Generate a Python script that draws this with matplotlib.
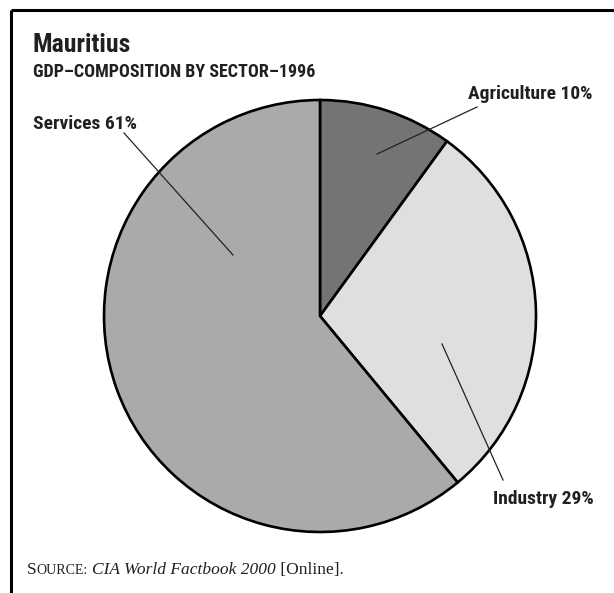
import matplotlib
matplotlib.use("Agg")
import matplotlib.pyplot as plt
from matplotlib import font_manager

# ---- data ----
sectors = ["Agriculture", "Industry", "Services"]
shares = [10, 29, 61]
colors = ["#747474", "#dfdfdf", "#aaaaaa"]
title = "Mauritius"
subtitle = "GDP\u2013COMPOSITION BY SECTOR\u20131996"

W, H = 614, 593
names = {f.name for f in font_manager.fontManager.ttflist}
cond = next((n for n in ["Liberation Sans Narrow", "Roboto Condensed",
                         "Open Sans Condensed", "DejaVu Sans Condensed"] if n in names),
            "DejaVu Sans")
serif = next((n for n in ["Liberation Serif", "DejaVu Serif"] if n in names), "serif")
TXT = "#231f20"

fig = plt.figure(figsize=(W / 100, H / 100), dpi=100)
ax = fig.add_axes([0, 0, 1, 1])

def Y(y):  # image row -> data y
    return H - y

# pie
ax.pie(shares, colors=colors, startangle=90, counterclock=False,
       center=(320, Y(316)), radius=216, frame=True,
       wedgeprops=dict(edgecolor="black", linewidth=1.9))
ax.set_xlim(0, W)
ax.set_ylim(0, H)
ax.set_aspect("auto")
ax.axis("off")

# frame (top + left only)
ax.plot([11, W], [Y(10), Y(10)], color="black", lw=2.2, solid_capstyle="butt")
ax.plot([11, 11], [Y(10), Y(H)], color="black", lw=2.2, solid_capstyle="butt")

# titles
ax.text(33, Y(52), title, fontsize=18.5, fontweight="bold", family=cond, color=TXT, va="baseline")
ax.text(33, Y(77), subtitle, fontsize=13, fontweight="bold", family=cond, color=TXT, va="baseline")

# labels with leader lines
lbl = [f"{s} {v}%" for s, v in zip(sectors, shares)]
ax.text(593, Y(99), lbl[0], fontsize=14, fontweight="bold", family=cond, color=TXT,
        va="baseline", ha="right")
ax.plot([377, 477], [Y(154), Y(107)], color="#222222", lw=0.9)
ax.text(493, Y(504), lbl[1], fontsize=14, fontweight="bold", family=cond, color=TXT,
        va="baseline", ha="left")
ax.plot([442, 503], [Y(344), Y(480)], color="#222222", lw=0.9)
ax.text(33, Y(129), lbl[2], fontsize=14, fontweight="bold", family=cond, color=TXT,
        va="baseline", ha="left")
ax.plot([124, 233], [Y(133), Y(255)], color="#222222", lw=0.9)

# source line built from pieces
fig.canvas.draw()
r = fig.canvas.get_renderer()
pieces = [("S", 12.5, "normal"), ("OURCE:", 10.0, "normal"), (" ", 12.5, "normal"),
          ("CIA World Factbook 2000", 12.5, "italic"), (" [Online].", 12.5, "normal")]
x = 27
for s, fs, st in pieces:
    t = ax.text(x, Y(574), s, fontsize=fs, style=st, family=serif, color=TXT, va="baseline")
    bb = t.get_window_extent(renderer=r)
    x += bb.width

fig.savefig("out.png", dpi=100)
